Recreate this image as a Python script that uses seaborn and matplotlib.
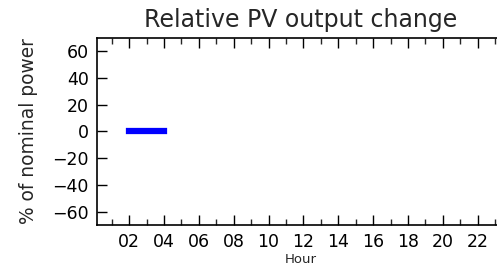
import numpy as np
import matplotlib
matplotlib.use("Agg")
import matplotlib.pyplot as plt
import pandas as pd
import seaborn as sns
from matplotlib.ticker import MultipleLocator, FixedLocator

# data
hours = [2, 3, 4]
change = [0, 0, 0]
tick_hours = [2, 4, 6, 8, 10, 12, 14, 16, 18, 20, 22]
tick_labels = ['02', '04', '06', '08', '10', '12', '14', '16', '18', '20', '22']
y_ticks = [-60, -40, -20, 0, 20, 40, 60]

df = pd.DataFrame({'hour': hours, 'change': change})

sns.set_style("white", {"xtick.direction": "in", "ytick.direction": "in",
                        "xtick.bottom": True, "xtick.top": True,
                        "ytick.left": True, "ytick.right": False,
                        "axes.edgecolor": "black"})
plt.rcParams['font.family'] = ['DejaVu Sans']

fig = plt.figure(figsize=(4.97, 2.66), dpi=100)
# axes runs past the right edge of the picture, as in the reference
ax = fig.add_axes([97 / 497, 1 - 225 / 266, 408 / 497, 187 / 266])
sns.lineplot(data=df, x='hour', y='change', color='blue', linewidth=4.5,
             solid_capstyle='projecting', ax=ax)

ax.set_xlim(0.15, 23.57)
ax.set_ylim(-70, 70)
ax.xaxis.set_major_locator(FixedLocator(tick_hours))
ax.set_xticklabels(tick_labels)
ax.xaxis.set_minor_locator(MultipleLocator(1))
ax.set_yticks(y_ticks)
ax.tick_params(which='major', length=7, width=1, colors='black', labelsize=12.5,
               top=True, right=False, direction='in', pad=6)
ax.tick_params(which='minor', length=4, width=1, top=True, bottom=True, direction='in')
for s in ax.spines.values():
    s.set_linewidth(1.2)
    s.set_color('black')

ax.set_title('Relative PV output change', fontsize=17, pad=8)
ax.set_ylabel('% of nominal power', fontsize=13.4, labelpad=10)
ax.set_xlabel('Hour', fontsize=9.5, labelpad=1)

fig.savefig('out.png', dpi=100)
